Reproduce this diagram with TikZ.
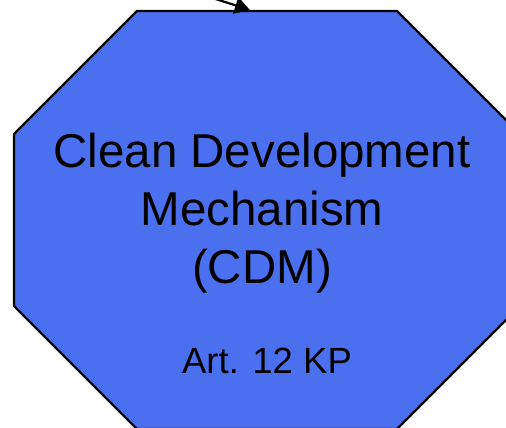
\documentclass[tikz,border=0pt]{standalone}
\usepackage{fontspec}
\setmainfont{Liberation Sans}
\usepackage{color}
\usetikzlibrary{positioning,arrows.meta}
\definecolor{cdmblue}{RGB}{74,112,240}

\begin{document}
\begin{tikzpicture}[x=1pt,y=1pt]
		% Define styles
		\tikzstyle{octagon} = [draw=black, fill=cdmblue, line width=2.2pt, line join=miter]
		\tikzstyle{bigtext} = [inner sep=0pt, align=center, font=\fontsize{47.5}{58}\selectfont]
		\tikzstyle{smalltext} = [inner sep=0pt, font=\fontsize{36.5}{44}\selectfont]
		\tikzstyle{linkarrow} = [line width=2.2pt, -{Triangle[length=15pt,width=17pt]}]
		
		% Picture size
		\useasboundingbox (0,0) rectangle (506,428);
		
		% Octagon (runs past the right and bottom edges)
		\draw [octagon] (137,417) -- (397,417) -- (520,294) -- (520,122)
		-- (397,-1) -- (137,-1) -- (14,122) -- (14,294) -- cycle;
		
		% Place nodes
		\node [bigtext, anchor=north] (title) at (262,295) {Clean Development\\Mechanism\\(CDM)};
		\node [smalltext, below=54pt of title, xshift=5pt] (article) {Art. 12 KP};
		
		% Draw arrows
		\coordinate (from) at (175,442);
		\coordinate (cdmtop) at (250,418);
		\draw [linkarrow] (from) -- (cdmtop);
	\end{tikzpicture}
\end{document}
